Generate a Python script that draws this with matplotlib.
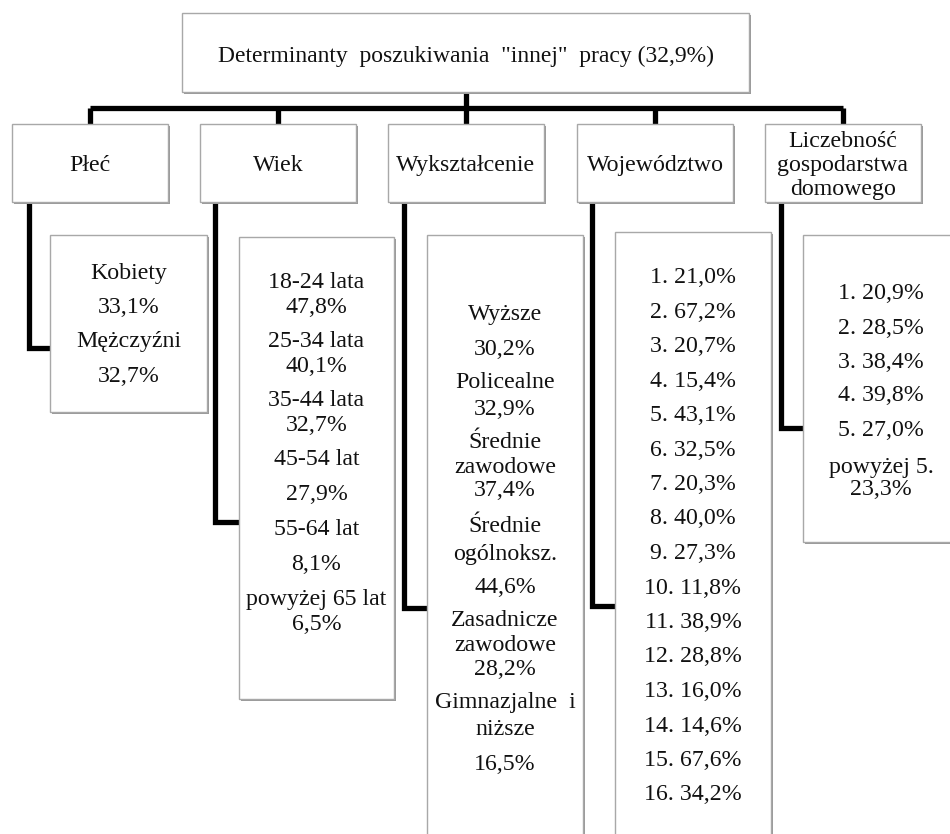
import matplotlib.pyplot as plt
from matplotlib.patches import Rectangle

plt.rcParams['font.family'] = 'serif'
plt.rcParams['font.serif'] = ['Liberation Serif', 'Times New Roman', 'DejaVu Serif']

# --- data ---
title = 'Determinanty  poszukiwania  "innej"  pracy (32,9%)'
categories = ['Płeć', 'Wiek', 'Wykształcenie', 'Województwo',
              'Liczebność\ngospodarstwa\ndomowego']

gender_labels = ['Kobiety', 'Mężczyźni']
gender_values = ['33,1%', '32,7%']

age_labels = ['18-24 lata', '25-34 lata', '35-44 lata', '45-54 lat',
              '55-64 lat', 'powyżej 65 lat']
age_values = ['47,8%', '40,1%', '32,7%', '27,9%', '8,1%', '6,5%']

edu_labels = ['Wyższe', 'Policealne', 'Średnie\nzawodowe', 'Średnie\nogólnoksz.',
              'Zasadnicze\nzawodowe', 'Gimnazjalne  i\nniższe']
edu_values = ['30,2%', '32,9%', '37,4%', '44,6%', '28,2%', '16,5%']

region_ids = list(range(1, 17))
region_values = ['21,0%', '67,2%', '20,7%', '15,4%', '43,1%', '32,5%', '20,3%', '40,0%',
                 '27,3%', '11,8%', '38,9%', '28,8%', '16,0%', '14,6%', '67,6%', '34,2%']

household_labels = ['1.', '2.', '3.', '4.', '5.', 'powyżej 5.']
household_values = ['20,9%', '28,5%', '38,4%', '39,8%', '27,0%', '23,3%']


def stack(labels, values):
    out = []
    for lab, val in zip(labels, values):
        out += lab.split('\n') + [val]
    return out


child_lines = [
    stack(gender_labels, gender_values),
    stack(age_labels, age_values),
    stack(edu_labels, edu_values),
    ['%d. %s' % (i, v) for i, v in zip(region_ids, region_values)],
    ['%s %s' % (l, v) for l, v in zip(household_labels[:-1], household_values[:-1])]
    + [household_labels[-1], household_values[-1]],
]

# --- layout (pixels, y down) ---
W, H = 950, 834
top_box = (182, 13, 567, 79)
cat_x = [12, 200, 388, 577, 765]
cat_w = 156
cat_y, cat_h = 124, 78
bar_y = 108

child_boxes = [(50, 235, 157, 177), (239, 237, 155, 462), (427, 235, 156, 620),
               (615, 232, 156, 620), (803, 235, 156, 307)]
elbow_x = [28.5, 215, 404, 592, 781]
elbow_y = [348, 522, 608, 606, 428]
line_ys = [
    [271, 305, 339, 374],
    [280, 305, 339, 364, 398, 423, 457, 492, 527, 562, 597, 622],
    [312, 347, 380, 407, 440, 465, 488, 524, 552, 585, 618, 643, 667, 700, 727, 762],
    [275 + 34.5 * i for i in range(16)],
    [291, 326, 360, 393, 428, 465, 487],
]

fig = plt.figure(figsize=(9.5, 8.34), dpi=100)
ax = fig.add_axes([0, 0, 1, 1])
ax.set_xlim(0, W)
ax.set_ylim(H, 0)
ax.axis('off')

FS = 17.2
LW = 3.8


def box(x, y, w, h):
    ax.add_patch(Rectangle((x + 2, y + 2), w, h, facecolor='#9a9a9a', edgecolor='none', zorder=3))
    ax.add_patch(Rectangle((x, y), w, h, facecolor='white', edgecolor='#a8a8a8', lw=1.0, zorder=4))


def conn(xs, ys):
    ax.plot(xs, ys, color='black', lw=LW, solid_capstyle='butt', solid_joinstyle='miter', zorder=2)


def label(x, y, txt, fs=FS):
    ax.text(x, y, txt, ha='center', va='center_baseline', fontsize=fs, color='#111111', zorder=5)


# top box
box(*top_box)
label(top_box[0] + top_box[2] / 2, 54, title, fs=17)

# main connectors
centers = [x + cat_w / 2 for x in cat_x]
conn([466, 466], [top_box[1] + top_box[3], bar_y])
conn([centers[0], centers[-1]], [bar_y, bar_y])
for cx in centers:
    conn([cx, cx], [bar_y, cat_y])

# category boxes
for i, (x, name) in enumerate(zip(cat_x, categories)):
    box(x, cat_y, cat_w, cat_h)
    parts = name.split('\n')
    for k, part in enumerate(parts):
        label(x + cat_w / 2, 163 + 24 * (k - (len(parts) - 1) / 2), part)
    # elbow into child box
    cb = child_boxes[i]
    conn([elbow_x[i], elbow_x[i], cb[0]], [cat_y + cat_h, elbow_y[i], elbow_y[i]])
    box(*cb)
    cx = cb[0] + cb[2] / 2
    for txt, y in zip(child_lines[i], line_ys[i]):
        label(cx, y, txt)

fig.savefig('out.png', dpi=100)
